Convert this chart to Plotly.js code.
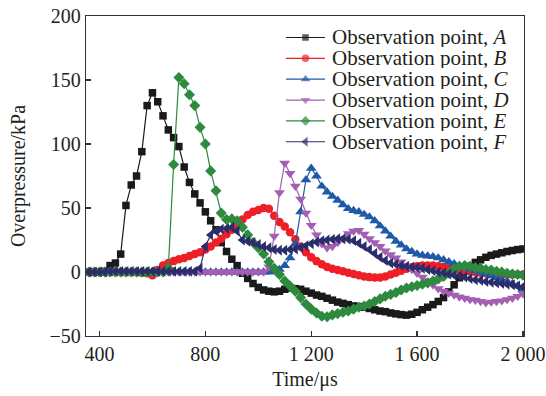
<!DOCTYPE html>
<html>
<head>
<meta charset="utf-8">
<script src="https://cdn.plot.ly/plotly-3.0.1.min.js"></script>
<style>html,body{margin:0;padding:0;background:#fff;}#chart{width:546px;height:396px;}</style>
</head>
<body>
<div id="chart"></div>
<script>
const timeUs = [360,380,400,420,440,460,480,500,520,540,560,580,600,620,640,660,680,700,720,740,760,780,800,820,840,860,880,900,920,940,960,980,1000,1020,1040,1060,1080,1100,1120,1140,1160,1180,1200,1220,1240,1260,1280,1300,1320,1340,1360,1380,1400,1420,1440,1460,1480,1500,1520,1540,1560,1580,1600,1620,1640,1660,1680,1700,1720,1740,1760,1780,1800,1820,1840,1860,1880,1900,1920,1940,1960,1980,2000];

const pointA = [0,0,0,0.5,5,7,14,52,68,75,94,130,140,133,122,111,105,98,82,70,61,54,47,40,33,23,16,10,5,-1,-5,-9,-12,-14,-15,-15.5,-15,-13.5,-12.5,-13,-13.5,-15,-16.5,-18,-19,-20.5,-22,-23.5,-24.5,-25.5,-26.5,-27,-27.5,-28.5,-29.5,-30.5,-31,-32,-32.7,-33.3,-33.7,-33,-31.5,-29.5,-27.5,-25.5,-23,-20,-15.5,-10,-4.5,0.5,4.5,7.5,9.5,11.5,13,14,15,16,16.8,17.5,18];

const pointB = [0,0,0,0,0,0,0,0,0,0,-0.5,-1,-2.5,1.5,5,7,8.5,10,11,12.5,14,15.5,17.5,20,23,26,29.5,33,37,41,44.5,47,48.5,50,49.5,44,39,35.5,31,25.5,20,15.5,11.5,8.5,6,4,2.5,1.5,0.5,-0.5,-1.5,-2.5,-3.5,-4,-4.3,-4.3,-3.5,-2,-0.5,1,2.5,3.5,4.5,5,5,5,4.5,4,3,2,1.5,1,0.5,0,-0.5,-1,-1,-1.5,-1.5,-2,-2,-2,-2];

const pointC = [0,0,0,0,0,0,0,0,0,0,0,0,0,0,0,0,0,0,0,0,0,0,0,0,0,0,0,0,0,0,0,0,0,0,0,0.5,2,5,11,22,47,72,81,75,67,62.5,59,56,52.5,49.5,48,47,45,43,40,36,32,28,24,21,18,16,14,13,12.5,12,11,9.5,8,6.5,5,3.5,2.5,1,0,-1.5,-3,-4.5,-6,-7.5,-9,-11,-13.5];

const pointD = [0,0,0,0,0,0,0,0,0,0,0,0,0,0,0,0,0,0,0,0,0,0,0,0,0,0,0,0,0,0,0,0,0,0,4,28,62,85,77,67,57,46,36.5,29,22,19,20,23,26,30,32,32.5,29.5,26,23,20,16.5,13.5,11,8,5,2,-1,-4,-7,-10,-13,-15,-16.5,-18,-19.5,-20.5,-21.5,-22,-23,-24,-23.5,-23,-22.5,-21.5,-20.5,-19,-17];

const pointE = [0,0,0,0,0,0,0,0,0,0,0,0,0,0,0,3,84,152,147,138.5,130,113,100,79,63.5,46,41,41.5,40,35,29,23,19,14,8,3,-2,-7,-11,-15,-20,-25,-29,-32,-34.5,-35,-33.5,-32.5,-31.5,-30.5,-29,-27.5,-26.5,-25,-23,-21,-19,-17.5,-16,-14,-12.5,-11.5,-10.5,-9.5,-8.5,-7,-5.5,-3.5,-1,2.5,4.5,5,4.5,3.5,3,2,1.5,0.5,0,-1,-1.5,-2,-2.5];

const pointF = [0,0,0,0,0.5,0.5,0.5,0.5,0.5,0.5,0.5,0.5,0.5,0.5,0.5,0.5,0.5,0.5,0.5,0.5,0.5,3,20,29,32,33.5,34,35,32,25,24,23,21.5,20,19,17.5,17,17,17.5,18,19,20.5,22,23.5,24.5,25,25.5,26,26,25.5,24.5,22.5,20,17.5,14.5,11.5,9,7,6,5,4.5,4,3.5,3,2,1,0,-0.5,-1.5,-2.5,-3,-4,-5,-6,-6.5,-7.5,-8,-8.5,-9,-9.5,-10,-11,-11.5];

const seriesNames = ['Observation point, <i>A</i>','Observation point, <i>B</i>','Observation point, <i>C</i>','Observation point, <i>D</i>','Observation point, <i>E</i>','Observation point, <i>F</i>'];
const seriesData = [pointA, pointB, pointC, pointD, pointE, pointF];
const seriesColors = ['#1a1a1a','#ee1f26','#1f5aa8','#a45fb2','#2e8a3e','#2b2c6b'];
const seriesSymbols = ['square','circle','triangle-up','triangle-down','diamond','triangle-left'];
const seriesSizes = [7.5,8.5,9.5,9.5,8.5,9.5];

const FONT = '"Liberation Serif", "Times New Roman", serif';
const TXT = '#231f20';

// plot area in pixels
const L = 86, R = 524, T = 16, B = 336;

const traces = seriesData.map((ys, i) => ({
  x: timeUs, y: ys, type: 'scatter', mode: 'lines+markers',
  line: {color: seriesColors[i], width: 1.2},
  marker: {symbol: seriesSymbols[i], size: seriesSizes[i], color: seriesColors[i], line: {width: 0}},
  showlegend: false, hoverinfo: 'skip'
}));

// custom legend (keys on an overlay axis measured in pixels of the plot area)
const annotations = [];
seriesNames.forEach((nm, i) => {
  const py = 37.5 + i * 20.85;
  traces.push({
    x: [286 - L, 305.5 - L, 325 - L], y: [py - T, py - T, py - T],
    xaxis: 'x2', yaxis: 'y2', type: 'scatter', mode: 'lines+markers',
    line: {color: seriesColors[i], width: 1.2},
    marker: {symbol: seriesSymbols[i], size: [0, seriesSizes[i] - 1, 0], color: seriesColors[i], line: {width: 0}},
    showlegend: false, hoverinfo: 'skip', cliponaxis: false
  });
  annotations.push({
    xref: 'paper', yref: 'paper', x: (331 - L) / (R - L), y: (B - py) / (B - T),
    xanchor: 'left', yanchor: 'middle', showarrow: false, text: nm,
    height: 20, valign: 'middle', borderpad: 0,
    font: {family: FONT, size: 21, color: TXT}
  });
});

const layout = {
  width: 546, height: 396,
  margin: {l: L, r: 546 - R, t: T, b: 396 - B, pad: 0},
  paper_bgcolor: '#fff', plot_bgcolor: '#fff',
  separators: '. ',
  font: {family: FONT, size: 20, color: TXT},
  showlegend: false,
  xaxis: {
    range: [349, 2004], tick0: 400, dtick: 400, separatethousands: true,
    ticks: 'inside', ticklen: 5, tickwidth: 1.2, tickcolor: '#333',
    showline: true, linecolor: '#333', linewidth: 1.3, mirror: true,
    showgrid: false, zeroline: false,
    tickfont: {family: FONT, size: 20, color: TXT},
    title: {text: 'Time/μs', font: {family: FONT, size: 20, color: TXT}, standoff: 7}
  },
  yaxis: {
    range: [-50, 200], tick0: 0, dtick: 50,
    ticks: 'inside', ticklen: 5, tickwidth: 1.2, tickcolor: '#333',
    showline: true, linecolor: '#333', linewidth: 1.3, mirror: true,
    showgrid: false, zeroline: false,
    tickfont: {family: FONT, size: 20, color: TXT},
    title: {text: 'Overpressure/kPa', font: {family: FONT, size: 20, color: TXT}, standoff: 18}
  },
  xaxis2: {overlaying: 'x', range: [0, R - L], visible: false, fixedrange: true},
  yaxis2: {overlaying: 'y', range: [B - T, 0], visible: false, fixedrange: true},
  annotations: annotations
};

Plotly.newPlot('chart', traces, layout, {displayModeBar: false, staticPlot: true});
</script>
</body>
</html>
